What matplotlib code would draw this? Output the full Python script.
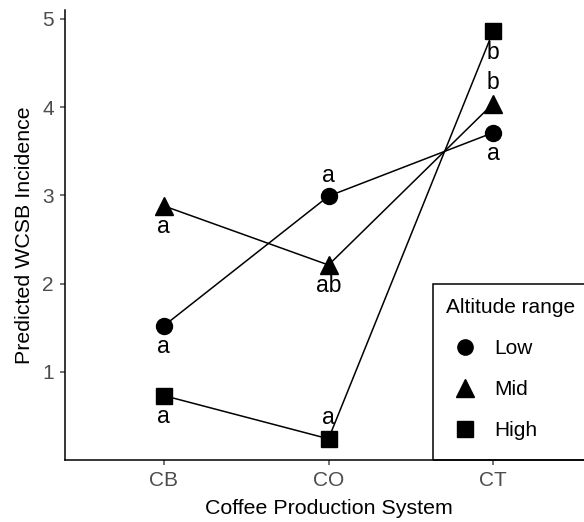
import matplotlib.pyplot as plt
from matplotlib.lines import Line2D
from matplotlib.patches import Rectangle

plt.rcParams['font.family'] = ['Liberation Sans', 'DejaVu Sans']

systems = ['CB', 'CO', 'CT']
altitudes = ['Low', 'Mid', 'High']
markers = ['o', '^', 's']

low = [1.52, 2.99, 3.71]
mid = [2.88, 2.21, 4.04]
high = [0.73, 0.24, 4.86]

low_letters = ['a', 'a', 'a']
mid_letters = ['a', 'ab', 'b']
high_letters = ['a', 'a', 'b']
# letter placed above (1) or below (-1) the point
low_side = [-1, 1, -1]
mid_side = [-1, -1, 1]
high_side = [-1, 1, -1]

W, H = 584, 522
fig = plt.figure(figsize=(W / 100, H / 100), dpi=100)
ax = fig.add_axes([65 / W, (H - 460) / H, (592 - 65) / W, 450 / H])

x = [1, 2, 3]
series = [(low, low_letters, low_side), (mid, mid_letters, mid_side), (high, high_letters, high_side)]
for (vals, lets, side), m in zip(series, markers):
    ms = 13 if m == '^' else 11.5
    ax.plot(x, vals, color='black', lw=1.1, marker=m, ms=ms, zorder=3)
    for xi, v, l, s in zip(x, vals, lets, side):
        ax.annotate(l, (xi, v), xytext=(0, 15 * s), textcoords='offset points',
                    ha='center', va='center', fontsize=16.5, zorder=4)

ax.set_xlim(0.4, 3.6)
ax.set_ylim(0, 5.1)
ax.set_xticks(x)
ax.set_xticklabels(systems)
ax.set_yticks([1, 2, 3, 4, 5])
ax.tick_params(colors='#4d4d4d', labelsize=15, length=3.6, width=1.1, pad=4.5)
for side in ['top', 'right']:
    ax.spines[side].set_visible(False)
for side in ['left', 'bottom']:
    ax.spines[side].set_linewidth(1.1)
ax.set_xlabel('Coffee Production System', fontsize=15.4, labelpad=6)
ax.set_ylabel('Predicted WCSB Incidence', fontsize=15.4, labelpad=6)

# legend box, cut off at the right edge like the original
fig.patches.append(Rectangle((433 / W, (H - 460) / H), 200 / W, (460 - 284) / H,
                             transform=fig.transFigure, fill=False, edgecolor='black',
                             lw=1.1, zorder=5))
handles = [Line2D([], [], color='black', marker=m, ls='', ms=11 if m != '^' else 12.5)
           for m in markers]
leg = fig.legend(handles, altitudes, title='Altitude range', loc='upper left',
                 bbox_to_anchor=(438 / W, (H - 290) / H), frameon=False, fontsize=15,
                 title_fontsize=15, handletextpad=0.5, labelspacing=1.05, borderaxespad=0,
                 handlelength=1.8)
leg._legend_box.align = 'left'

fig.savefig('out.png', dpi=100)
